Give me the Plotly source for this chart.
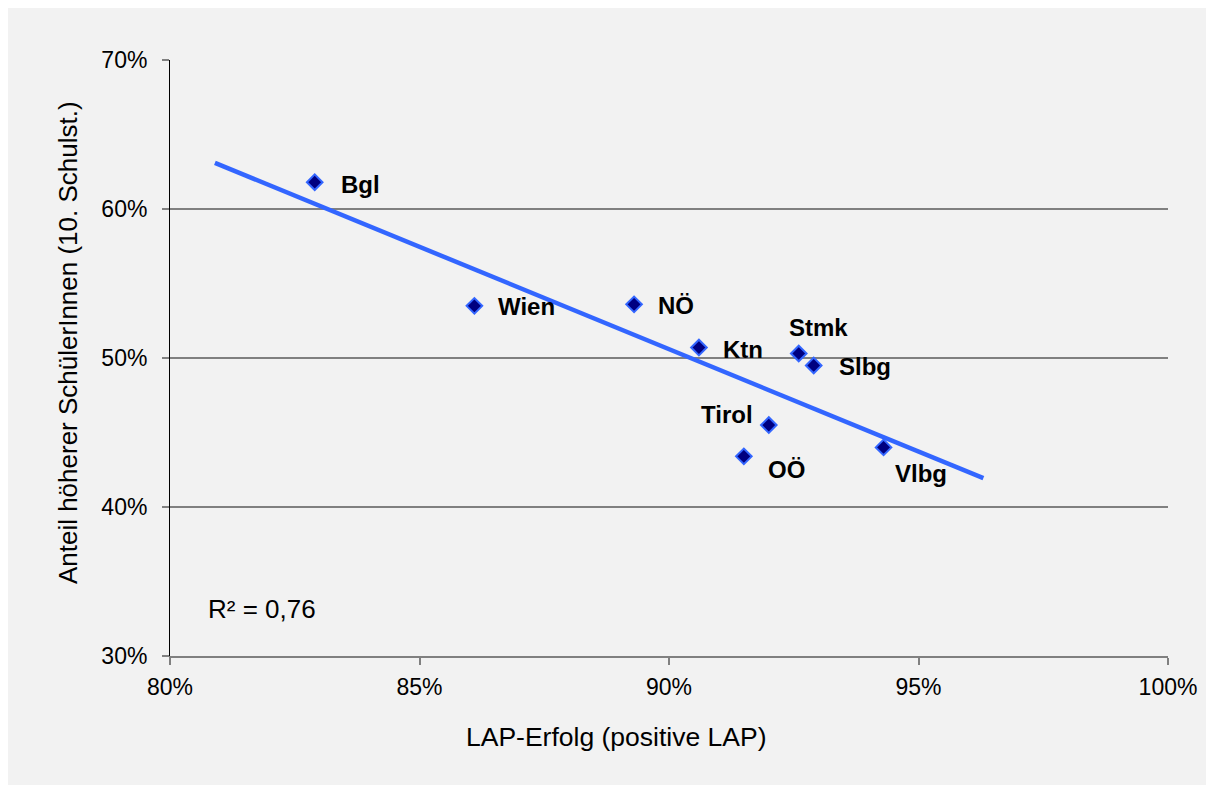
import numpy as np
import plotly.graph_objects as go

# Bundesländer: LAP-Erfolg (x) vs. Anteil höherer SchülerInnen (y)
laender = ["Bgl", "Wien", "NÖ", "Ktn", "Stmk", "Slbg", "Tirol", "OÖ", "Vlbg"]
lap_erfolg = [0.829, 0.861, 0.893, 0.906, 0.926, 0.929, 0.920, 0.915, 0.943]
anteil_hoeher = [0.618, 0.535, 0.536, 0.507, 0.503, 0.495, 0.455, 0.434, 0.440]

x_ticks = [0.80, 0.85, 0.90, 0.95, 1.00]
y_ticks = [0.30, 0.40, 0.50, 0.60, 0.70]

x_title = "LAP-Erfolg (positive LAP)"
y_title = "Anteil höherer SchülerInnen (10. Schulst.)"

# label placement (xanchor, xshift, yshift) per point
label_pos = {
    "Bgl": ("left", 24, -2),
    "Wien": ("left", 22, -1),
    "NÖ": ("left", 22, -1),
    "Ktn": ("left", 22, -2),
    "Stmk": ("center", 20, 26),
    "Slbg": ("left", 23, -1),
    "Tirol": ("right", -14, 11),
    "OÖ": ("left", 22, -13),
    "Vlbg": ("left", 9, -26),
}

FONT = "Liberation Sans, Arial, sans-serif"

x = np.array(lap_erfolg)
y = np.array(anteil_hoeher)
slope, intercept = np.polyfit(x, y, 1)
r2 = np.corrcoef(x, y)[0, 1] ** 2
# Excel-style trendline, extended 2 %-points forward and backward
trend_x = np.array([x.min() - 0.02, x.max() + 0.02])
trend_y = slope * trend_x + intercept

fig = go.Figure()

fig.add_trace(go.Scatter(x=trend_x, y=trend_y, mode="lines",
                         line=dict(color="#3366ff", width=4.5), showlegend=False,
                         hoverinfo="skip"))

fig.add_trace(go.Scatter(x=lap_erfolg, y=anteil_hoeher, mode="markers",
                         marker=dict(symbol="diamond", size=12, color="#000080",
                                     line=dict(color="#3366ff", width=2)),
                         text=laender, showlegend=False))

for name, px, py in zip(laender, lap_erfolg, anteil_hoeher):
    anchor, dx, dy = label_pos[name]
    fig.add_annotation(x=px, y=py, text="<b>%s</b>" % name, showarrow=False,
                       xanchor=anchor, yanchor="middle", xshift=dx, yshift=dy,
                       font=dict(family=FONT, size=24, color="black"))

fig.add_annotation(x=0.8072, y=0.3315, text="R² = %s" % ("%.2f" % r2).replace(".", ","),
                   showarrow=False, xanchor="left", yanchor="middle",
                   font=dict(family=FONT, size=26, color="black"))

# axis titles (placed like in the original, slightly off-centre)
fig.add_annotation(xref="paper", yref="paper", x=0.447, y=-0.136, text=x_title,
                   showarrow=False, xanchor="center", yanchor="middle",
                   font=dict(family=FONT, size=26.5, color="black"))
fig.add_annotation(xref="paper", yref="paper", x=-0.1022, y=0.525, text=y_title,
                   showarrow=False, xanchor="center", yanchor="middle", textangle=-90,
                   font=dict(family=FONT, size=26, color="black"))

fig.update_layout(
    width=1206, height=777,
    margin=dict(l=162, r=46, t=52, b=129),
    paper_bgcolor="#f2f2f2", plot_bgcolor="#f2f2f2",
    font=dict(family=FONT, size=23, color="black"),
    showlegend=False,
    xaxis=dict(range=[0.80, 1.00], tickvals=x_ticks, tickformat=".0%",
               showgrid=False, zeroline=False,
               showline=True, linecolor="#808080", linewidth=2,
               ticks="outside", ticklen=7, tickcolor="#808080", tickwidth=1.5,
               ticklabelstandoff=2),
    yaxis=dict(range=[0.30, 0.70], tickvals=y_ticks, tickformat=".0%",
               showgrid=True, gridcolor="#808080", gridwidth=1.5, zeroline=False,
               showline=True, linecolor="black", linewidth=1,
               ticks="outside", ticklen=7, tickcolor="#808080", tickwidth=1.5,
               ticklabelstandoff=10),
)

fig.write_html("out.html")
